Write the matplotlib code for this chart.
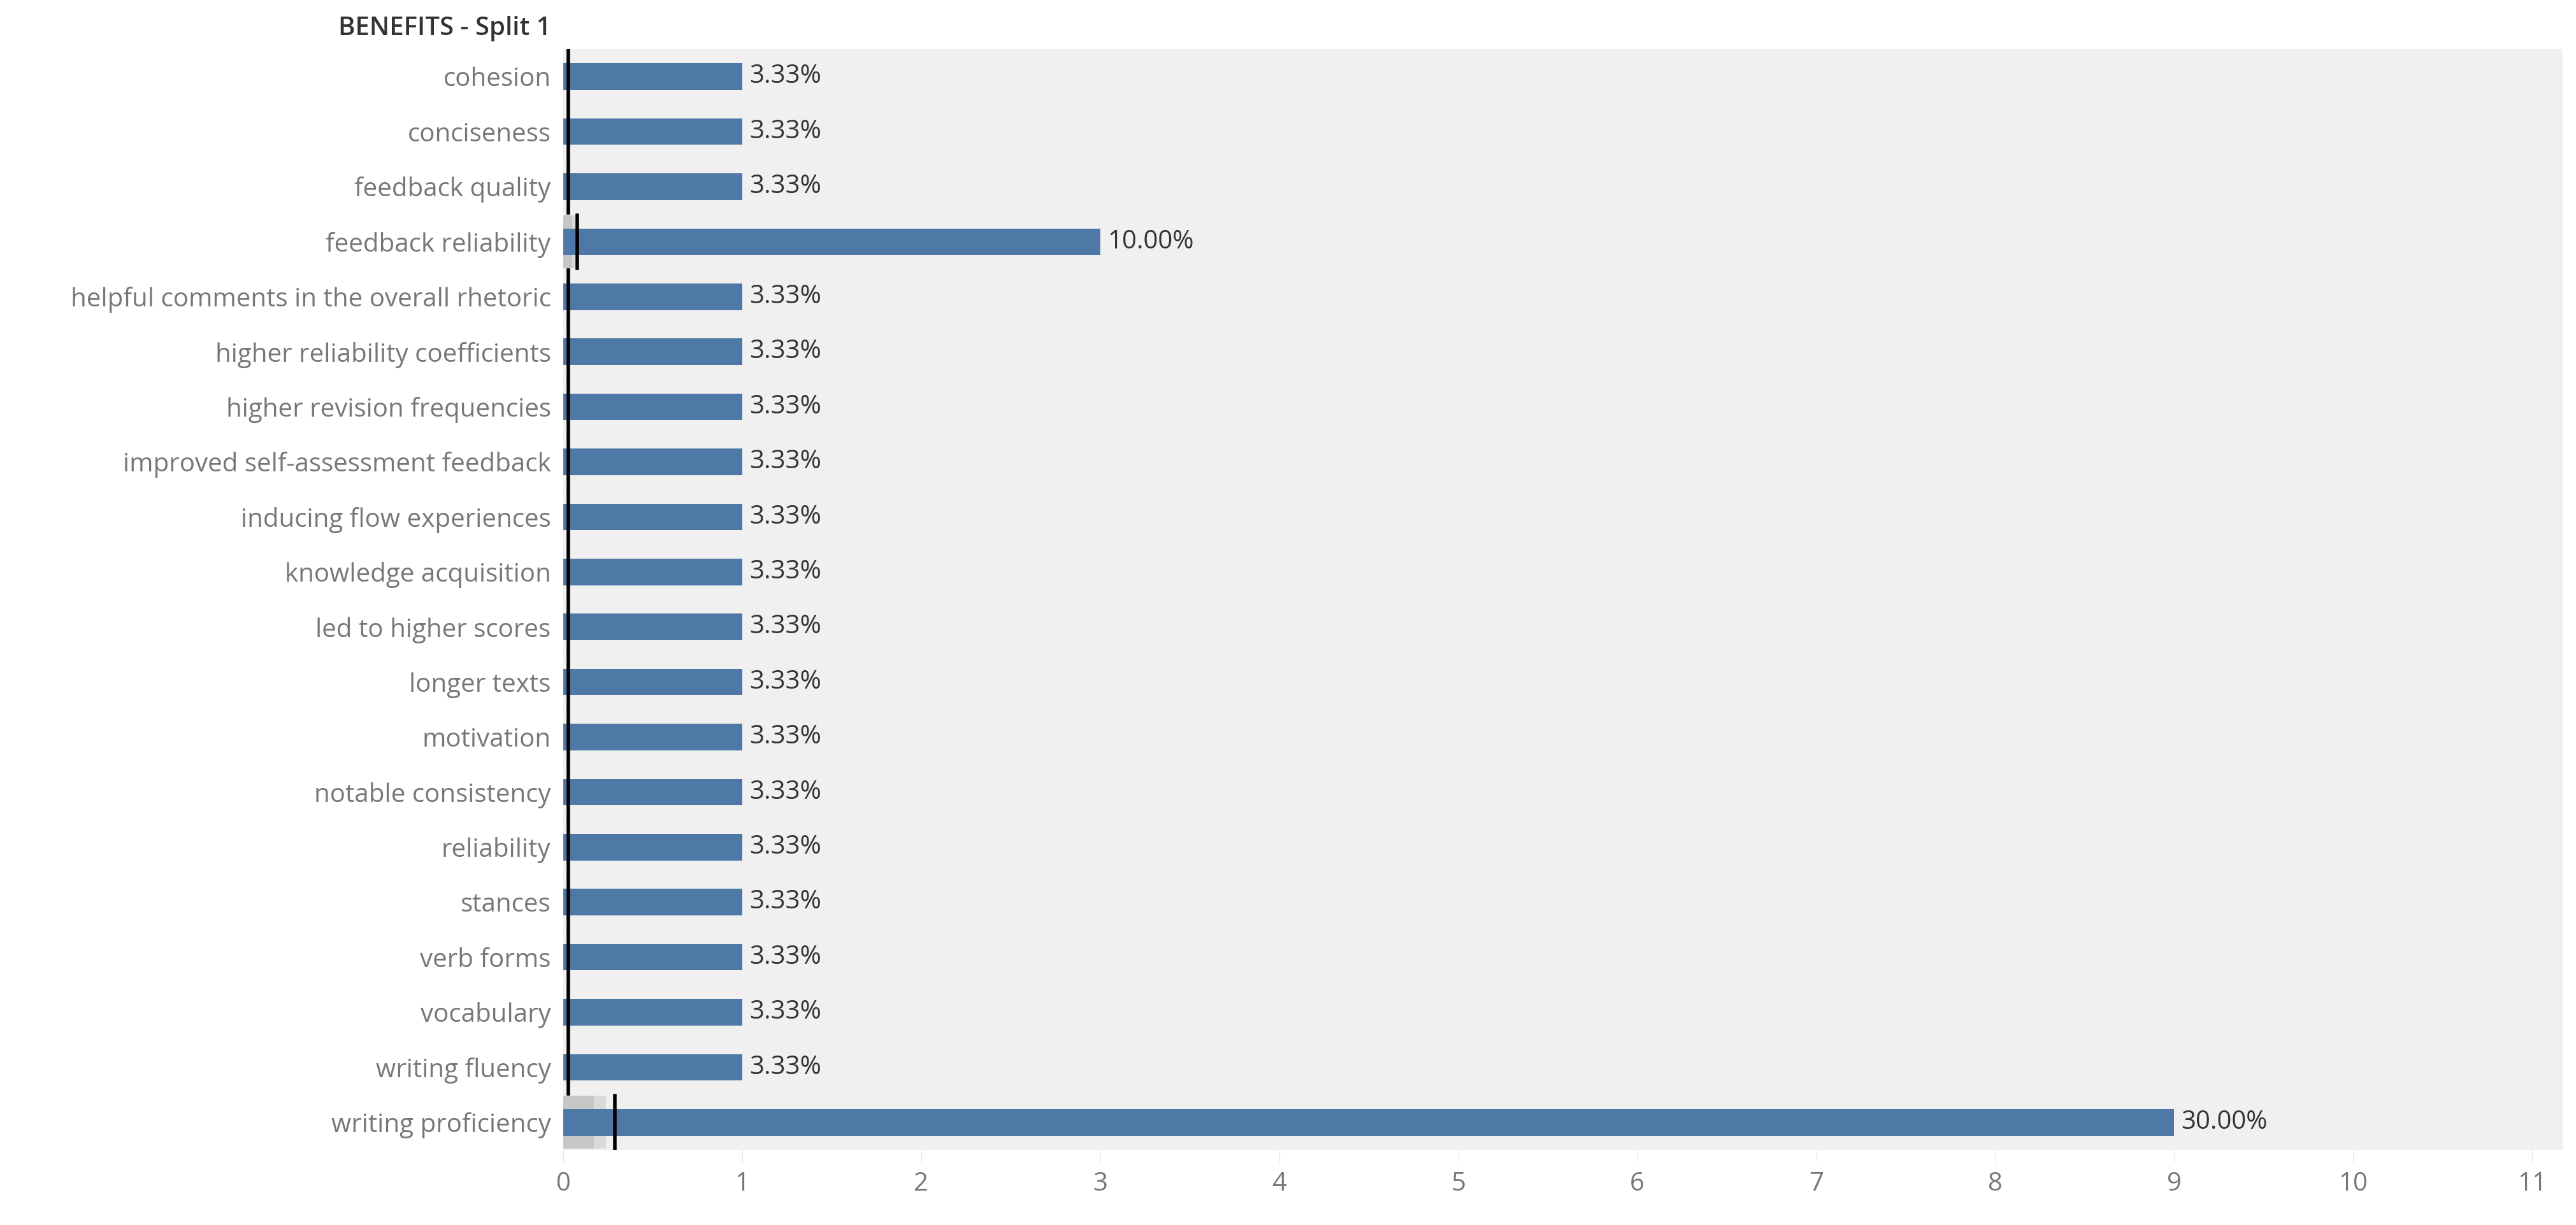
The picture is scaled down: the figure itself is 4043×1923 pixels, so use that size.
import matplotlib.pyplot as plt

categories = [
    "cohesion", "conciseness", "feedback quality", "feedback reliability",
    "helpful comments in the overall rhetoric", "higher reliability coefficients",
    "higher revision frequencies", "improved self-assessment feedback",
    "inducing flow experiences", "knowledge acquisition", "led to higher scores",
    "longer texts", "motivation", "notable consistency", "reliability",
    "stances", "verb forms", "vocabulary", "writing fluency", "writing proficiency",
]
counts = [1, 1, 1, 3, 1, 1, 1, 1, 1, 1, 1, 1, 1, 1, 1, 1, 1, 1, 1, 9]
pct_labels = ["3.33%"] * 3 + ["10.00%"] + ["3.33%"] * 15 + ["30.00%"]
ref_line = [0.03] * 3 + [0.08] + [0.03] * 15 + [0.29]
band_dark = [0.0] * 3 + [0.05] + [0.0] * 15 + [0.17]
band_light = [0.0] * 3 + [0.08] + [0.0] * 15 + [0.24]

plt.rcParams["font.family"] = ["Open Sans", "DejaVu Sans"]

fig = plt.figure(figsize=(40.43, 19.23), dpi=100)
ax = fig.add_axes([884 / 4043, 1 - 1805 / 1923, (4022 - 884) / 4043, (1805 - 77) / 1923])
ax.set_facecolor("#F0F0F0")

y = list(range(len(categories)))
ax.barh(y, band_light, height=0.96, color="#DADADA", zorder=1)
ax.barh(y, band_dark, height=0.96, color="#C6C6C6", zorder=1)
ax.barh(y, counts, height=0.48, color="#4E79A7", zorder=2)
for yi, r in zip(y, ref_line):
    ax.plot([r, r], [yi - 0.48, yi + 0.48], color="black", lw=4, zorder=3)
for yi, c, t in zip(y, counts, pct_labels):
    ax.text(c + 0.04, yi, t, va="center", ha="left", fontsize=29, color="#333333")

ax.set_xlim(0, 11.17)
ax.set_ylim(len(categories) - 0.5, -0.5)
ax.set_yticks(y)
ax.set_yticklabels(categories, fontsize=29, color="#777777")
ax.set_xticks(range(12))
ax.set_xticklabels([str(i) for i in range(12)], fontsize=29, color="#777777")
ax.tick_params(axis="y", length=0, pad=14)
ax.tick_params(axis="x", length=14, color="#E6E6E6", pad=10)
for s in ax.spines.values():
    s.set_visible(False)

fig.text(865 / 4043, 1 - 45 / 1923, "BENEFITS - Split 1", ha="right", va="center",
         fontsize=29, color="#333333", fontweight="semibold")

fig.savefig("out.png", dpi=100)
